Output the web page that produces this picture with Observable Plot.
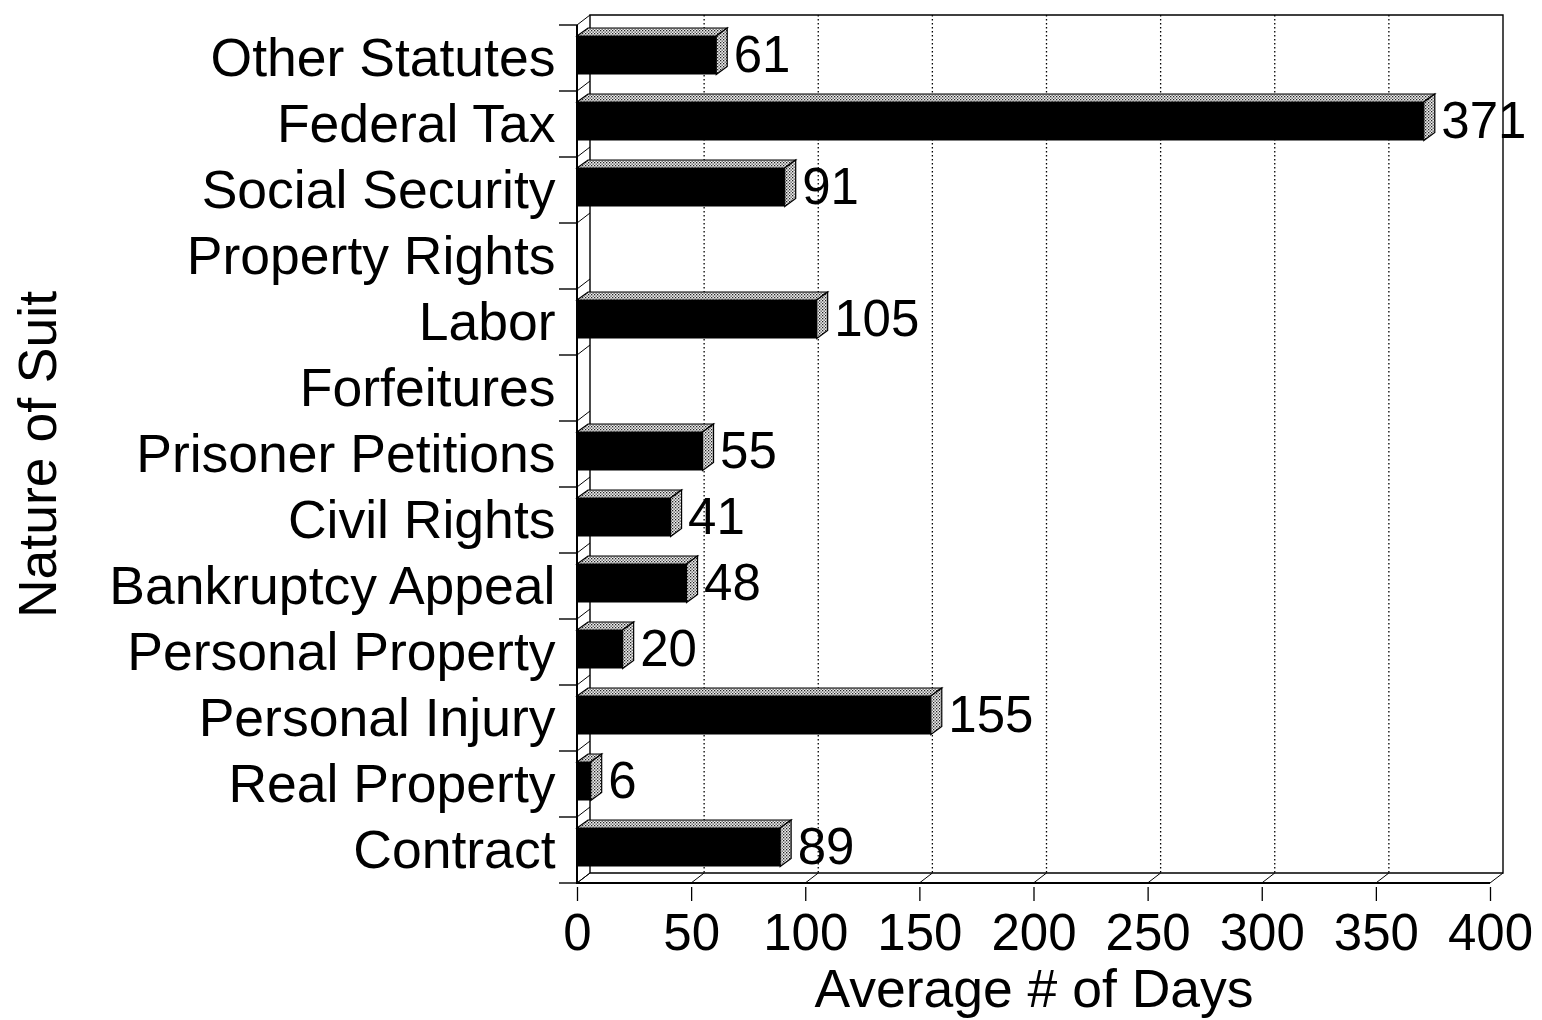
<!DOCTYPE html>
<html><head><meta charset="utf-8">
<script src="https://cdn.jsdelivr.net/npm/d3@7"></script>
<script src="https://cdn.jsdelivr.net/npm/@observablehq/plot@0.6"></script>
<style>html,body{margin:0;padding:0;background:#fff}</style>
</head><body><div id="chart"></div>
<script>
// ---- data ----
const categories = ["Other Statutes","Federal Tax","Social Security","Property Rights","Labor","Forfeitures","Prisoner Petitions","Civil Rights","Bankruptcy Appeal","Personal Property","Personal Injury","Real Property","Contract"];
const values = [61,371,91,null,105,null,55,41,48,20,155,6,89];
const xTicks = [0,50,100,150,200,250,300,350,400];
const xLabel = "Average # of Days";
const yLabel = "Nature of Suit";

// ---- styling constants ----
const WALL_DX = 13, WALL_DY = 10;
const BAR_DX = 11, BAR_DY = 8;
const FACE_TOP = 11, FACE_BOTTOM = 16.5;
const FONT = "'Liberation Sans', Arial, Helvetica, sans-serif";
const FS = 51;      // numbers
const FS_CAT = 53.5; // category labels and titles

const rows = categories.map((c, i) => ({category: c, days: values[i]}));
const bars = rows.filter(d => d.days != null);

function bandInfo(y, dims) {
  let bw = y.bandwidth;
  if (typeof bw === "function") bw = bw();
  const n = categories.length;
  if (!(bw > 0)) bw = (dims.height - dims.marginTop - dims.marginBottom) / n;
  const yT = y(categories[0]);
  return {bw, yT, yB: yT + bw * n, n};
}

// back walls, floor, gridlines, axis lines
function walls(index, scales, vals, dims) {
  const {x, y} = scales;
  const {bw, yT, yB, n} = bandInfo(y, dims);
  const x0 = x(xTicks[0]), x1 = x(xTicks[xTicks.length - 1]);
  const g = d3.create("svg:g").attr("fill", "none").attr("stroke", "black");
  for (const t of xTicks.slice(1, -1)) {
    g.append("line").attr("x1", x(t) + WALL_DX).attr("x2", x(t) + WALL_DX)
      .attr("y1", yT - WALL_DY).attr("y2", yB - WALL_DY)
      .attr("stroke-width", 1.3).attr("stroke-dasharray", "1.5,2.5");
  }
  g.append("path").attr("stroke-width", 1.4)
    .attr("d", `M${x0 + WALL_DX},${yB - WALL_DY}V${yT - WALL_DY}H${x1 + WALL_DX}V${yB - WALL_DY}H${x0 + WALL_DX}`);
  for (const t of xTicks) {
    g.append("line").attr("x1", x(t)).attr("y1", yB).attr("x2", x(t) + WALL_DX).attr("y2", yB - WALL_DY).attr("stroke-width", 1);
  }
  for (let k = 0; k <= n; k++) {
    const yb = yT + k * bw;
    g.append("line").attr("x1", x0).attr("y1", yb).attr("x2", x0 + WALL_DX).attr("y2", yb - WALL_DY).attr("stroke-width", 1);
    g.append("line").attr("x1", x0 - 18).attr("y1", yb).attr("x2", x0).attr("y2", yb).attr("stroke-width", 1.4);
  }
  g.append("path").attr("stroke-width", 2)
    .attr("d", `M${x0},${yT}V${yB}H${x1}`);
  return g.node();
}

// 3D faces of bars (top + side), stippled
function barFaces(index, scales, vals, dims) {
  const {x, y} = scales;
  const {bw} = bandInfo(y, dims);
  const g = d3.create("svg:g");
  const defs = g.append("defs");
  const pat = defs.append("pattern").attr("id", "stipple").attr("patternUnits", "userSpaceOnUse")
    .attr("width", 3).attr("height", 3);
  pat.append("rect").attr("width", 3).attr("height", 3).attr("fill", "#eeeeee");
  pat.append("rect").attr("x", 0).attr("y", 0).attr("width", 1.3).attr("height", 1.3).attr("fill", "#222");
  pat.append("rect").attr("x", 1.5).attr("y", 1.5).attr("width", 1.3).attr("height", 1.3).attr("fill", "#444");
  for (const d of bars) {
    const x0 = x(0), xv = x(d.days);
    const ft = y(d.category) + FACE_TOP, fb = y(d.category) + bw - FACE_BOTTOM;
    g.append("path").attr("fill", "url(#stipple)").attr("stroke", "black").attr("stroke-width", 1.2)
      .attr("d", `M${x0},${ft}L${x0 + BAR_DX},${ft - BAR_DY}H${xv + BAR_DX}L${xv},${ft}Z`);
    g.append("path").attr("fill", "url(#stipple)").attr("stroke", "black").attr("stroke-width", 1.2)
      .attr("d", `M${xv},${ft}L${xv + BAR_DX},${ft - BAR_DY}V${fb - BAR_DY}L${xv},${fb}Z`);
  }
  return g.node();
}

const chart = Plot.plot({
  width: 1542,
  height: 1020,
  marginLeft: 577,
  marginRight: 52,
  marginTop: 21,
  marginBottom: 133,
  style: {fontFamily: FONT, fontSize: FS + "px", background: "#fff", color: "black"},
  x: {domain: [0, 400]},
  y: {domain: categories, padding: 0},
  marks: [
    walls,
    barFaces,
    Plot.barX(bars, {x: "days", y: "category", fill: "black", insetTop: FACE_TOP, insetBottom: FACE_BOTTOM}),
    Plot.text(bars, {x: "days", y: "category", text: d => String(d.days), textAnchor: "start", dx: BAR_DX + 6, dy: -3, fontSize: FS, fill: "black"}),
    Plot.axisX(xTicks, {tickSize: 14, tickPadding: 12, label: null, fontSize: FS, strokeWidth: 1.3}),
    Plot.axisY({tickSize: 0, tickPadding: 22, label: null, fontSize: FS_CAT}),
    Plot.text([xLabel], {text: d => d, frameAnchor: "bottom", textAnchor: "middle", lineAnchor: "top", dy: 81, fontSize: FS_CAT, fill: "black"}),
    Plot.text([yLabel], {text: d => d, frameAnchor: "left", textAnchor: "middle", rotate: -90, lineAnchor: "top", dx: -560, fontSize: FS_CAT, fill: "black"})
  ]
});
document.getElementById("chart").appendChild(chart);
</script>
</body></html>
